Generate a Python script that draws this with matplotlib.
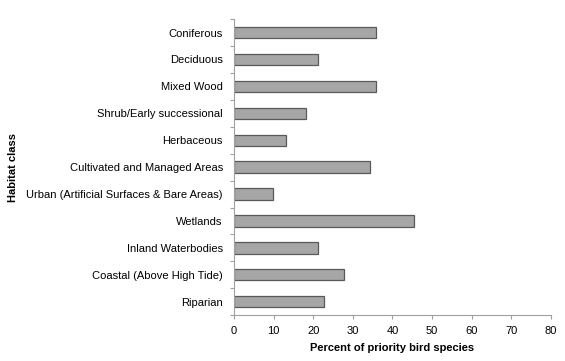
import matplotlib.pyplot as plt
import numpy as np

habitats = ["Coniferous", "Deciduous", "Mixed Wood", "Shrub/Early successional",
            "Herbaceous", "Cultivated and Managed Areas",
            "Urban (Artificial Surfaces & Bare Areas)", "Wetlands",
            "Inland Waterbodies", "Coastal (Above High Tide)", "Riparian"]
percent = [35.8, 21.1, 35.8, 18.1, 13.2, 34.3, 9.9, 45.5, 21.2, 27.7, 22.7]
xticks = [0, 10, 20, 30, 40, 50, 60, 70, 80]

plt.rcParams['font.family'] = ['Liberation Sans', 'DejaVu Sans']

fig = plt.figure(figsize=(5.65, 3.61), dpi=100)
ax = fig.add_axes([0.414, 0.127, 0.561, 0.82])

y = np.arange(len(habitats))
ax.barh(y, percent, height=0.42, color='#a6a6a6', edgecolor='#595959', linewidth=0.9)

ax.set_ylim(len(habitats) - 0.5, -0.5)
ax.set_xlim(0, 80)
ax.set_xticks(xticks)
ax.set_yticks(y)
ax.set_yticklabels(habitats, fontsize=8)
ax.set_yticks(np.arange(-0.5, len(habitats), 1), minor=True)
ax.tick_params(axis='y', which='major', length=0, pad=8)
ax.tick_params(axis='y', which='minor', length=3, color='#a0a0a0', width=0.8)
ax.tick_params(axis='x', length=3, color='#a0a0a0', labelsize=8, pad=5)

for s in ['top', 'right']:
    ax.spines[s].set_visible(False)
for s in ['left', 'bottom']:
    ax.spines[s].set_color('#a0a0a0')
    ax.spines[s].set_linewidth(0.8)

ax.set_xlabel("Percent of priority bird species", fontsize=8, fontweight='bold', labelpad=5)
ax.set_ylabel("Habitat class", fontsize=8, fontweight='bold', labelpad=6)

fig.savefig("out.png", dpi=100)
